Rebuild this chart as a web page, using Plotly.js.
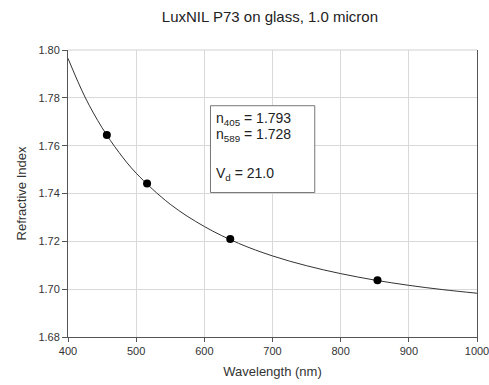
<!DOCTYPE html>
<html><head><meta charset="utf-8">
<script src="https://cdn.plot.ly/plotly-3.0.1.min.js"></script>
<style>html,body{margin:0;padding:0;background:#fff}#chart{width:489px;height:385px}</style>
</head><body><div id="chart"></div>
<script>
// Fitted dispersion curve
const curveWavelength = [400, 425, 450, 475, 500, 550, 600, 650, 700, 750, 800, 850, 900, 950, 1000];
const curveIndex = [1.7965, 1.7803, 1.7675, 1.7571, 1.7485, 1.7355, 1.7262, 1.7192, 1.7139, 1.7098, 1.7065, 1.7038, 1.7016, 1.6998, 1.6983];
// Measured points
const pointWavelength = [457, 516, 638, 854];
const pointIndex = [1.7645, 1.7442, 1.7210, 1.7037];
const xTicks = [400, 500, 600, 700, 800, 900, 1000];
const yTicks = [1.68, 1.70, 1.72, 1.74, 1.76, 1.78, 1.80];
// Text box lines
const boxLines = ['n<sub>405</sub> = 1.793', 'n<sub>589</sub> = 1.728', 'V<sub>d</sub> = 21.0'];
const boxLineY = [1.7712, 1.7643, 1.7482];

const font = "Liberation Sans, Arial, sans-serif";
const traces = [
  {x: curveWavelength, y: curveIndex, mode: 'lines', line: {color: '#333', width: 1, shape: 'spline'}, hoverinfo: 'none'},
  {x: pointWavelength, y: pointIndex, mode: 'markers', marker: {color: '#000', size: 8}, hoverinfo: 'none'}
];
const layout = {
  width: 489, height: 385,
  margin: {l: 68, r: 12, t: 50, b: 48},
  paper_bgcolor: '#fff', plot_bgcolor: '#fff',
  showlegend: false,
  font: {family: font, color: '#333', size: 11},
  title: {text: 'LuxNIL P73 on glass, 1.0 micron', font: {family: font, size: 15, color: '#222'}, x: 0.552, xanchor: 'center', y: 0.957, yanchor: 'middle'},
  xaxis: {
    range: [400, 1000], tickvals: xTicks, ticktext: xTicks.map(String),
    showgrid: true, gridcolor: '#d9d9d9', gridwidth: 1,
    showline: true, linecolor: '#555', linewidth: 1, mirror: false,
    ticks: 'outside', ticklen: 4, tickcolor: '#555',
    tickfont: {size: 11, color: '#333'}, ticklabeloverflow: 'allow',
    title: {text: 'Wavelength (nm)', font: {size: 13, color: '#333'}, standoff: 10},
    zeroline: false, fixedrange: true
  },
  yaxis: {
    range: [1.68, 1.80], tickvals: yTicks, ticktext: yTicks.map(v => v.toFixed(2)),
    showgrid: true, gridcolor: '#d9d9d9', gridwidth: 1,
    showline: true, linecolor: '#555', linewidth: 1, mirror: true,
    ticks: 'outside', ticklen: 5, tickcolor: '#555',
    tickfont: {size: 11, color: '#333'},
    title: {text: 'Refractive Index', font: {size: 13, color: '#333'}, standoff: 8},
    zeroline: false, fixedrange: true
  },
  shapes: [
    {type: 'line', xref: 'paper', yref: 'paper', x0: 0, x1: 1, y0: 1, y1: 1, line: {color: '#d0d0d0', width: 1}},
    {type: 'rect', xref: 'x', yref: 'y', x0: 609, x1: 762, y0: 1.7404, y1: 1.7767, fillcolor: '#fff', line: {color: '#777', width: 1}, layer: 'above'}
  ],
  annotations: boxLines.map((t, i) => ({
    xref: 'x', yref: 'y', x: 614, y: boxLineY[i], xanchor: 'left', yanchor: 'middle',
    text: t, showarrow: false, align: 'left',
    font: {family: font, size: 14, color: '#222'}
  }))
};
Plotly.newPlot('chart', traces, layout, {staticPlot: true, displayModeBar: false});
</script></body></html>
